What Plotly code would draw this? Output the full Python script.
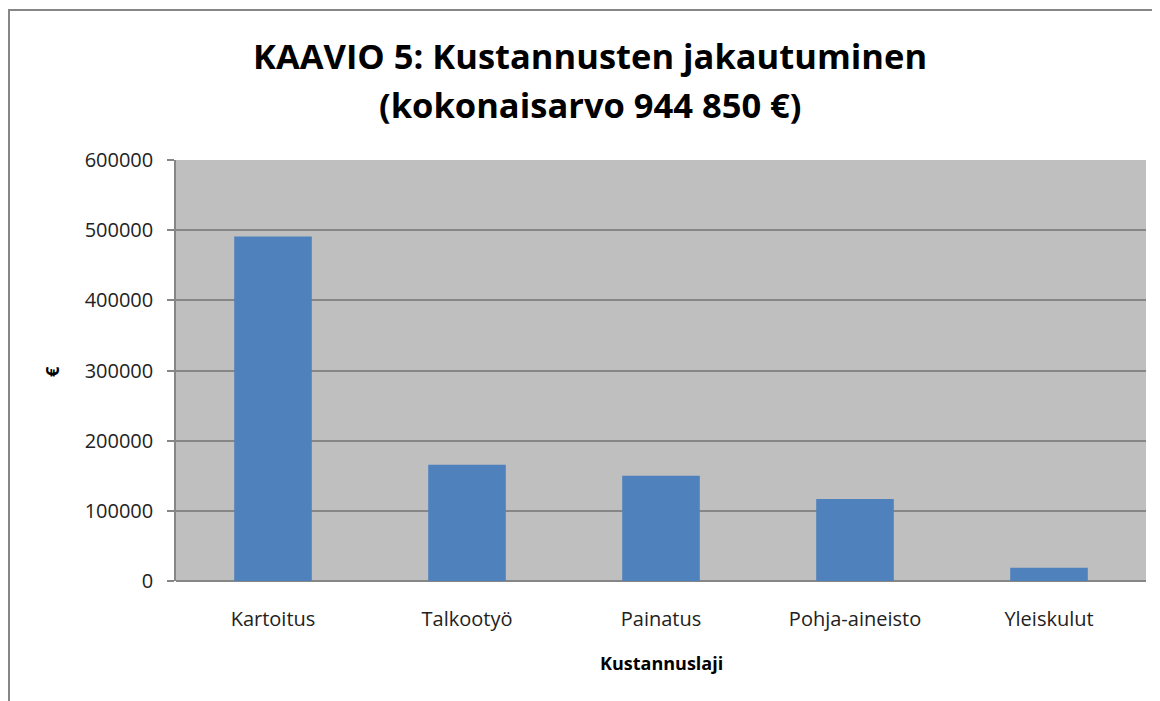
import plotly.graph_objects as go

categories = ["Kartoitus", "Talkootyö", "Painatus", "Pohja-aineisto", "Yleiskulut"]
values = [491000, 165500, 150000, 117000, 19000]
y_ticks = [0, 100000, 200000, 300000, 400000, 500000, 600000]

title_line1 = "KAAVIO 5: Kustannusten jakautuminen"
title_line2 = "(kokonaisarvo 944 850 €)"
x_title = "Kustannuslaji"
y_title = "€"

W, H = 1160, 701
OFF = 8  # page body margin offset
# target screen positions of plot area: x 176..1146, y 159.5..581
ml = 176 - OFF
mr = W - (1146 - OFF)
mt = 152
mb = H - (581 - OFF)

pw = W - ml - mr
ph = H - mt - mb


def px_x(sx):
    return (sx - OFF - ml) / pw


def px_y(sy):
    return (H - mb - (sy - OFF)) / ph


fig = go.Figure()
fig.add_trace(go.Bar(
    x=categories, y=values,
    marker=dict(color="#4F81BD", line=dict(width=0)),
    width=0.4,
))

fig.update_layout(
    width=W, height=H,
    margin=dict(l=ml, r=mr, t=mt, b=mb),
    paper_bgcolor="white",
    plot_bgcolor="#BFBFBF",
    showlegend=False,
    font=dict(family="Open Sans", color="#000000"),
    xaxis=dict(
        showgrid=False, zeroline=False,
        showline=False, ticks="",
        tickfont=dict(size=20, color="#222222"),
        ticklabelstandoff=24,
        range=[-0.5, 4.5],
    ),
    yaxis=dict(
        range=[0, 600000], tickvals=y_ticks,
        ticktext=[str(v) for v in y_ticks],
        showgrid=True, gridcolor="#868686", gridwidth=1.5,
        zeroline=True, zerolinecolor="#868686", zerolinewidth=1.5,
        showline=True, linecolor="#868686", linewidth=1.5,
        ticks="outside", ticklen=7, tickcolor="#868686", tickwidth=1.5,
        tickfont=dict(size=20, color="#222222"),
        ticklabelstandoff=10,
    ),
    annotations=[
        dict(text="<b>" + title_line1 + "</b>", xref="paper", yref="paper",
             x=px_x(590), y=px_y(55.5), xanchor="center", yanchor="middle",
             showarrow=False, font=dict(size=34.5, color="#000000")),
        dict(text="<b>" + title_line2 + "</b>", xref="paper", yref="paper",
             x=px_x(590), y=px_y(104), xanchor="center", yanchor="middle",
             showarrow=False, font=dict(size=34.5, color="#000000")),
        dict(text="<b>" + y_title + "</b>", xref="paper", yref="paper",
             x=px_x(52), y=px_y(372), xanchor="center", yanchor="middle",
             showarrow=False, textangle=-90,
             font=dict(size=18, color="#000000")),
        dict(text="<b>" + x_title + "</b>", xref="paper", yref="paper",
             x=0.5, y=px_y(663),
             showarrow=False, xanchor="center", yanchor="middle",
             font=dict(size=18, color="#000000")),
    ],
    shapes=[
        dict(type="rect", xref="paper", yref="paper",
             x0=px_x(9), x1=px_x(1180),
             y0=px_y(720), y1=px_y(10),
             line=dict(color="#868686", width=2), fillcolor="rgba(0,0,0,0)",
             layer="below"),
    ],
)

fig.write_html("out.html")
